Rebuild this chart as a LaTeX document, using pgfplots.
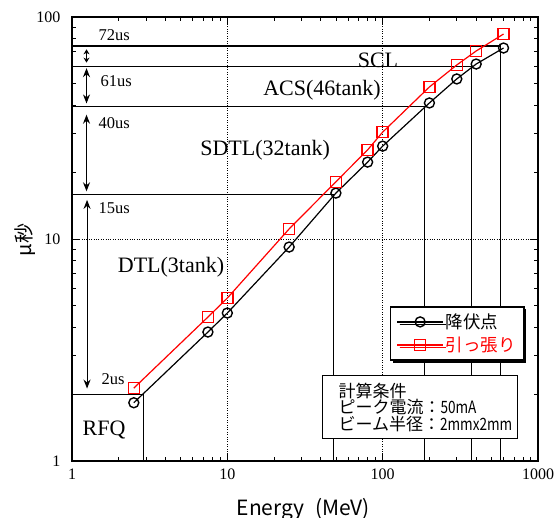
\documentclass[border=0pt]{standalone}
\usepackage{fontspec}
\usepackage{pgfplots}
\pgfplotsset{compat=1.18}
\usetikzlibrary{arrows.meta,shadows}
\setmainfont{Liberation Serif}
\newfontfamily\jp{Noto Sans CJK JP}
\newfontfamily\jpn[FakeStretch=0.8]{Noto Sans CJK JP}
\newcommand{\smallfs}{\fontsize{16.5}{18}\selectfont}
\newcommand{\bigfs}{\fontsize{22}{24}\selectfont}
\begin{document}
\begin{tikzpicture}
\begin{axis}[name=ax,
 scale only axis, width=466pt, height=444pt,
 xmode=log, ymode=log, xmin=1, xmax=1000, ymin=1, ymax=100,
 log ticks with fixed point,
 /pgf/number format/1000 sep={},
 /pgf/number format/assume math mode=true,
 tick align=inside, tick pos=both,
 major tick length=7pt, minor tick length=4pt,
 every tick/.style={black, line width=0.8pt},
 axis line style={line width=1.4pt},
 grid=major, major grid style={dotted, line width=0.9pt, black},
 ticklabel style={font=\fontsize{16}{18}\selectfont},
 xticklabel style={yshift=-4pt},
 yticklabel style={xshift=-8pt},
 xlabel={\jp\fontsize{21}{24}\selectfont Energy\hspace{0.5em}(MeV)},
 ylabel={\jp\fontsize{20}{24}\selectfont μ秒},
 xlabel style={at={(axis description cs:0.496,-0.110)}, anchor=center},
 ylabel style={at={(axis description cs:-0.101,0.498)}, anchor=center},
 clip=false,
 legend style={at={(rel axis cs:0.682,0.349)}, anchor=north west, draw=black, line width=1.5pt, fill=white,
   font=\jp\fontsize{17.5}{19}\selectfont, inner xsep=6pt, inner ysep=5pt, row sep=3pt, cells={anchor=west},
   drop shadow={shadow xshift=2.5pt, shadow yshift=-2.5pt, opacity=1, fill=black}},
 legend image code/.code={\draw[mark repeat=2,mark phase=2] plot coordinates {(0pt,0pt) (23pt,0pt) (46pt,0pt)};},
]
% annotation lines
\draw[line width=1.1pt] (axis cs:1,2) -- (axis cs:2.9,2) -- (axis cs:2.9,1);
\draw[line width=1.1pt] (axis cs:1,15.8) -- (axis cs:48,15.8) -- (axis cs:48,1);
\draw[line width=1.1pt] (axis cs:1,39.7) -- (axis cs:185,39.7) -- (axis cs:185,1);
\draw[line width=1.1pt] (axis cs:1,59.6) -- (axis cs:371,59.6) -- (axis cs:371,1);
\draw[line width=1.1pt] (axis cs:1,74) -- (axis cs:570,74) -- (axis cs:570,1);
% arrows
\draw[line width=1.1pt, {Stealth[length=9pt,width=7pt]}-{Stealth[length=9pt,width=7pt]}] (axis cs:1.25,2.12) -- (axis cs:1.25,15.0);
\draw[line width=1.1pt, {Stealth[length=9pt,width=7pt]}-{Stealth[length=9pt,width=7pt]}] (axis cs:1.24,16.4) -- (axis cs:1.24,36.3);
\draw[line width=1.1pt, {Stealth[length=9pt,width=7pt]}-{Stealth[length=9pt,width=7pt]}] (axis cs:1.24,40.8) -- (axis cs:1.24,58.8);
\draw[line width=1.1pt, {Stealth[length=5pt,width=6pt]}-{Stealth[length=5pt,width=6pt]}] (axis cs:1.24,62.3) -- (axis cs:1.24,71.5);
% labels
\node[anchor=west, font=\smallfs] at (axis cs:1.41,83) {72us};
\node[anchor=west, font=\smallfs] at (axis cs:1.45,51.5) {61us};
\node[anchor=west, font=\smallfs] at (axis cs:1.41,33.3) {40us};
\node[anchor=west, font=\smallfs] at (axis cs:1.41,13.8) {15us};
\node[anchor=west, font=\smallfs] at (axis cs:1.47,2.34) {2us};
\node[font=\bigfs] at (axis cs:93.3,64.0) {SCL};
\node[font=\bigfs] at (axis cs:40.7,46.9) {ACS(46tank)};
\node[font=\bigfs] at (axis cs:17.5,25.2) {SDTL(32tank)};
\node[font=\bigfs] at (axis cs:4.34,7.48) {DTL(3tank)};
\node[font=\bigfs] at (axis cs:1.61,1.38) {RFQ};
% data
\addplot[black, line width=1.2pt, mark=o, mark size=5pt, mark options={line width=1.4pt, solid}] coordinates {
 (2.5,1.83) (7.5,3.81) (10,4.64) (25,9.2) (50,16.1) (80,22.2) (100,26.2) (200,41) (300,52.6) (400,61.4) (600,72.5)};
\addlegendentry{降伏点}
\addplot[red, line width=1.2pt, mark=square, mark size=5.5pt, mark options={line width=1.4pt, solid}] coordinates {
 (2.5,2.13) (7.5,4.45) (10,5.42) (25,11.1) (50,18.1) (80,25.2) (100,30.3) (200,48.4) (300,60.8) (400,70.3) (600,83.8)};
\addlegendentry{\textcolor{red}{引っ張り}}
% condition box
\node[draw, line width=1.1pt, fill=white, anchor=north west, minimum width=195pt, minimum height=63pt,
  text width=163pt, inner xsep=16pt, align=left, font=\jp\fontsize{17}{16.5}\selectfont]
  at (rel axis cs:0.5365,0.1937) {計算条件\\ピーク電流：{\jpn 50mA}\\ビーム半径：{\jpn 2mmx2mm}};
\end{axis}
\pgfresetboundingbox
\path[use as bounding box] ([shift={(-72pt,-56pt)}]ax.south west) rectangle ([shift={(16pt,17pt)}]ax.north east);
\end{tikzpicture}
\end{document}
